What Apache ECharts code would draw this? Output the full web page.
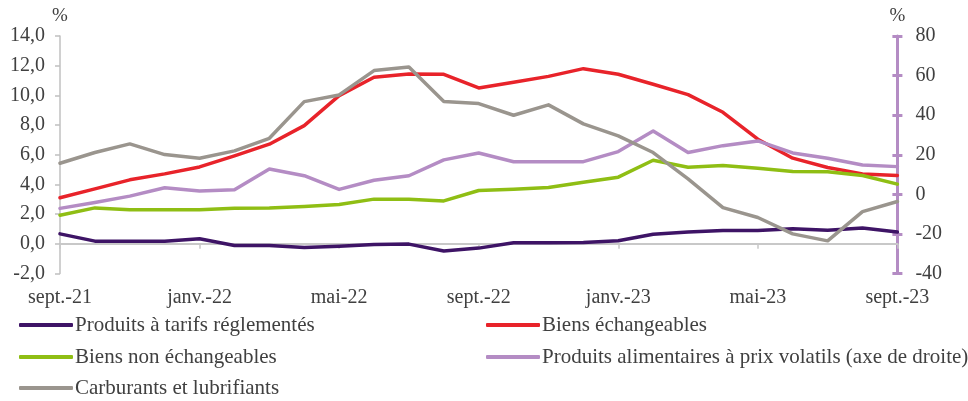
<!DOCTYPE html>
<html>
<head>
<meta charset="utf-8">
<script src="https://cdn.jsdelivr.net/npm/echarts@6/dist/echarts.min.js"></script>
<style>
  html, body { margin: 0; padding: 0; background: #ffffff; }
  #chart { width: 968px; height: 401px; }
</style>
</head>
<body>
<div id="chart"></div>
<script>
// Months, September 2021 to September 2023
const months = [
  'sept.-21', 'oct.-21', 'nov.-21', 'déc.-21',
  'janv.-22', 'févr.-22', 'mars-22', 'avr.-22',
  'mai-22', 'juin-22', 'juil.-22', 'août-22',
  'sept.-22', 'oct.-22', 'nov.-22', 'déc.-22',
  'janv.-23', 'févr.-23', 'mars-23', 'avr.-23',
  'mai-23', 'juin-23', 'juil.-23', 'août-23',
  'sept.-23'
];

// Year-on-year change, % (left axis)
const tarifsReglementes = [0.67, 0.18, 0.18, 0.18, 0.34, -0.11, -0.11, -0.25, -0.16, -0.04, -0.02, -0.49, -0.29, 0.07, 0.07, 0.09, 0.20, 0.65, 0.79, 0.90, 0.90, 1.01, 0.92, 1.06, 0.79];
const biensEchangeables = [3.10, 3.70, 4.31, 4.71, 5.18, 5.92, 6.71, 7.96, 9.98, 11.22, 11.44, 11.42, 10.50, 10.88, 11.28, 11.80, 11.42, 10.75, 10.05, 8.86, 7.05, 5.77, 5.14, 4.71, 4.60];
const biensNonEchangeables = [1.93, 2.42, 2.29, 2.29, 2.29, 2.40, 2.42, 2.51, 2.65, 3.01, 3.01, 2.89, 3.59, 3.68, 3.79, 4.15, 4.49, 5.63, 5.16, 5.27, 5.09, 4.87, 4.85, 4.60, 4.02];
const carburants = [5.43, 6.15, 6.73, 6.01, 5.77, 6.26, 7.11, 9.58, 10.03, 11.67, 11.91, 9.58, 9.45, 8.66, 9.36, 8.08, 7.27, 6.15, 4.37, 2.44, 1.77, 0.67, 0.20, 2.17, 2.85];

// Year-on-year change, % (right axis)
const alimentairesVolatils = [-7.1, -4.1, -0.9, 3.3, 1.7, 2.3, 12.8, 9.4, 2.5, 7.1, 9.4, 17.4, 20.9, 16.5, 16.5, 16.5, 21.6, 32.0, 21.1, 24.6, 27.0, 20.9, 18.2, 14.8, 14.0];

const names = {
  tarifs: 'Produits à tarifs réglementés',
  ech: 'Biens échangeables',
  nonEch: 'Biens non échangeables',
  alim: 'Produits alimentaires à prix volatils (axe de droite)',
  carb: 'Carburants et lubrifiants'
};

const FONT = '"Liberation Serif", "DejaVu Serif", serif';
const TEXT = '#404040';
const GRAY_AXIS = '#c0c0c0';
const LILAC = '#b48cc4';

const chart = echarts.init(document.getElementById('chart'), null, { renderer: 'canvas' });

function line(name, data, color, yAxisIndex) {
  return {
    name: name,
    type: 'line',
    data: data,
    xAxisIndex: 0,
    yAxisIndex: yAxisIndex,
    symbol: 'none',
    smooth: false,
    lineStyle: { color: color, width: 3.5, cap: 'round', join: 'round' },
    itemStyle: { color: color },
    z: 3
  };
}

function legendAt(name, left, top) {
  return {
    data: [name],
    left: left,
    top: top,
    icon: 'roundRect',
    itemWidth: 54,
    itemHeight: 4,
    padding: 0,
    selectedMode: false,
    textStyle: { fontFamily: FONT, fontSize: 21, lineHeight: 22, color: TEXT, padding: [0, 0, 0, -3] }
  };
}

const option = {
  backgroundColor: '#ffffff',
  animation: false,
  textStyle: { fontFamily: FONT },
  grid: { left: 60, right: 70.6, top: 36, bottom: 127.5, containLabel: false },
  legend: [
    legendAt(names.tarifs, 19, 314),
    legendAt(names.nonEch, 19, 346),
    legendAt(names.carb, 19, 377),
    legendAt(names.ech, 486, 314),
    legendAt(names.alim, 486, 346)
  ],
  xAxis: [
    {
      // labels along the bottom of the plot
      type: 'category',
      data: months,
      boundaryGap: false,
      position: 'bottom',
      axisLine: { show: false, onZero: false },
      axisTick: { show: false },
      splitLine: { show: false },
      axisLabel: {
        interval: 3,
        margin: 14,
        fontFamily: FONT,
        fontSize: 20,
        color: TEXT
      }
    },
    {
      // zero line with ticks
      type: 'category',
      data: months,
      boundaryGap: false,
      position: 'bottom',
      axisLine: { show: true, onZero: true, onZeroAxisIndex: 0, lineStyle: { color: '#c8c8c8', width: 2 } },
      axisTick: { show: true, interval: 3, length: 5, lineStyle: { color: '#c8c8c8', width: 1.5 } },
      axisLabel: { show: false },
      splitLine: { show: false }
    }
  ],
  yAxis: [
    {
      type: 'value',
      position: 'left',
      min: -2,
      max: 14,
      interval: 2,
      name: '%',
      nameLocation: 'end',
      nameGap: 10,
      nameTextStyle: { fontFamily: FONT, fontSize: 19, color: TEXT, align: 'center' },
      axisLine: { show: true, onZero: false, lineStyle: { color: GRAY_AXIS, width: 1.5 } },
      axisTick: { show: true, inside: false, length: 5, lineStyle: { color: GRAY_AXIS, width: 1.5 } },
      splitLine: { show: false },
      axisLabel: {
        margin: 15,
        fontFamily: FONT,
        fontSize: 20,
        color: TEXT,
        formatter: v => v.toFixed(1).replace('.', ',')
      }
    },
    {
      type: 'value',
      position: 'right',
      min: -40,
      max: 80,
      interval: 20,
      name: '%',
      nameLocation: 'end',
      nameGap: 10,
      nameTextStyle: { fontFamily: FONT, fontSize: 19, color: TEXT, align: 'center' },
      axisLine: { show: true, onZero: false, lineStyle: { color: LILAC, width: 3 } },
      axisTick: { show: true, inside: false, length: 5, lineStyle: { color: LILAC, width: 3 } },
      splitLine: { show: false },
      axisLabel: {
        margin: 18,
        fontFamily: FONT,
        fontSize: 20,
        color: TEXT,
        formatter: v => String(v)
      }
    },
    {
      // inner half of the crossing ticks on the right axis
      type: 'value',
      position: 'right',
      min: -40,
      max: 80,
      interval: 20,
      axisLine: { show: false, onZero: false },
      axisTick: { show: true, inside: true, length: 5, lineStyle: { color: LILAC, width: 3 } },
      splitLine: { show: false },
      axisLabel: { show: false }
    }
  ],
  series: [
    line(names.tarifs, tarifsReglementes, '#3e1466', 0),
    line(names.ech, biensEchangeables, '#e8232a', 0),
    line(names.nonEch, biensNonEchangeables, '#8fbe14', 0),
    line(names.alim, alimentairesVolatils, LILAC, 1),
    line(names.carb, carburants, '#9a958e', 0)
  ]
};

chart.setOption(option);
</script>
</body>
</html>
